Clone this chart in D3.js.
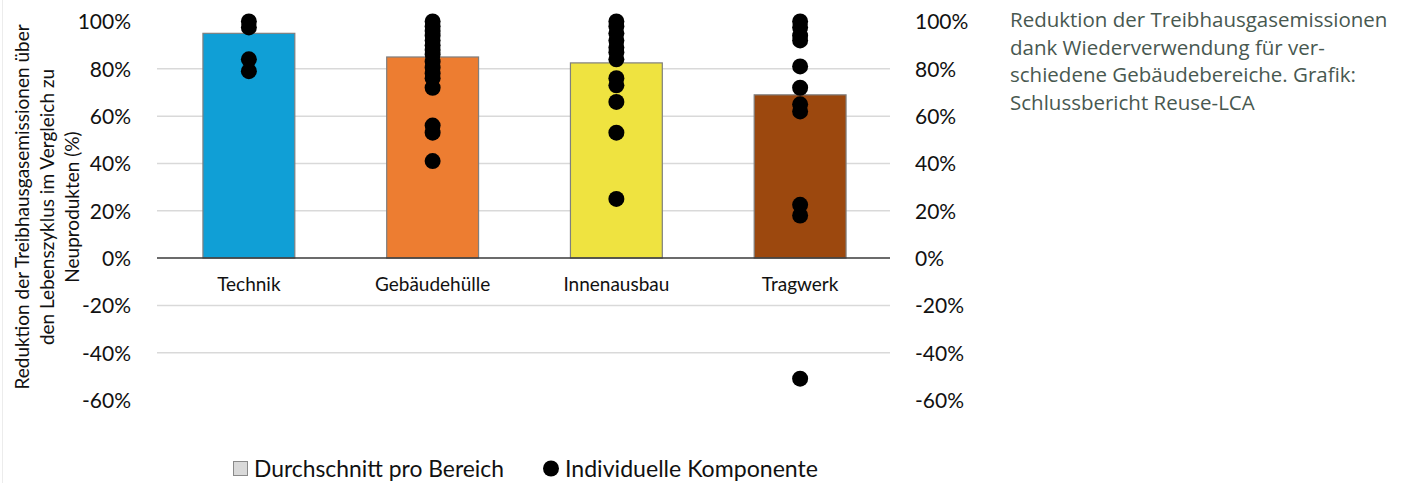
<!DOCTYPE html>
<html>
<head>
<meta charset="utf-8">
<script src="https://cdn.jsdelivr.net/npm/d3@7"></script>
<style>
  html, body { margin: 0; padding: 0; background: #fff; }
  svg { display: block; }
  .tick-label { font-family: Lato, "Open Sans", sans-serif; font-size: 21px; fill: #111; }
  .cat-label { font-family: Lato, "Open Sans", sans-serif; font-size: 19px; fill: #111; }
  .axis-title { font-family: Lato, "Open Sans", sans-serif; font-size: 19px; fill: #111; }
  .legend-text { font-family: Lato, "Open Sans", sans-serif; font-size: 24px; fill: #111; }
  .caption { font-family: "Open Sans", "Noto Sans", sans-serif; font-size: 20.5px; fill: #485850; }
</style>
</head>
<body>
<svg id="chart" width="1413" height="483"></svg>
<script>
// Building areas and their average reduction (%)
const categories = ["Technik", "Gebäudehülle", "Innenausbau", "Tragwerk"];
const averages = [95, 85, 82.5, 69];
const barColors = ["#109fd6", "#ed7d31", "#efe340", "#9c480e"];

// Reduction per individual component (%)
const compTechnik = [100, 97.5, 84, 79];
const compHuelle = [100, 98, 96, 94, 92, 90, 88, 86, 83, 80.5, 78, 76, 72, 56, 53, 41];
const compInnen = [100, 98, 95, 92, 89, 87, 84, 76, 73, 66, 53, 25];
const compTragwerk = [100, 97.5, 94, 92, 81, 72, 65, 62, 22.5, 18, -51];
const components = [compTechnik, compHuelle, compInnen, compTragwerk];

const yTicks = [-60, -40, -20, 0, 20, 40, 60, 80, 100];

const axisTitleLines = [
  "Reduktion der Treibhausgasemissionen über",
  "den Lebenszyklus im Vergleich zu",
  "Neuprodukten (%)"
];
const legendLabels = ["Durchschnitt pro Bereich", "Individuelle Komponente"];
const captionLines = [
  "Reduktion der Treibhausgasemissionen",
  "dank Wiederverwendung für ver-",
  "schiedene Gebäudebereiche. Grafik:",
  "Schlussbericht Reuse-LCA"
];

const svg = d3.select("#chart");

// faint frame line on the left edge
svg.append("line")
  .attr("x1", 2.5).attr("x2", 2.5).attr("y1", 0).attr("y2", 483)
  .attr("stroke", "#ececec").attr("stroke-width", 1);

const plotLeft = 157, plotRight = 892;
const x = d3.scaleBand().domain(categories).range([plotLeft, plotRight])
  .paddingInner(0.5).paddingOuter(0.25);
const y = d3.scaleLinear().domain([-60, 100]).range([400, 21.5]);

// gridlines (not at the outer limits)
svg.append("g").selectAll("line")
  .data(yTicks.filter(t => t !== 0 && t !== 100 && t !== -60))
  .join("line")
  .attr("x1", plotLeft).attr("x2", plotRight - 2)
  .attr("y1", d => y(d)).attr("y2", d => y(d))
  .attr("stroke", "#d9d9d9").attr("stroke-width", 1.5);

// left axis labels
const leftAxis = d3.axisLeft(y).tickValues(yTicks).tickFormat(d => d + "%").tickSize(0).tickPadding(0);
const gl = svg.append("g").attr("transform", "translate(131,0)").call(leftAxis);
gl.select(".domain").remove();
gl.selectAll("text").attr("class", "tick-label").attr("font-size", null).attr("font-family", null)
  .attr("dy", "0.35em");

// right axis labels
const rightAxis = d3.axisRight(y).tickValues(yTicks).tickFormat(d => d + "%").tickSize(0).tickPadding(0);
const gr = svg.append("g").attr("transform", "translate(915,0)").call(rightAxis);
gr.select(".domain").remove();
gr.selectAll("text").attr("class", "tick-label").attr("font-size", null).attr("font-family", null)
  .attr("dy", "0.35em");

// average bars
svg.append("g").selectAll("rect")
  .data(categories)
  .join("rect")
  .attr("x", d => x(d))
  .attr("width", x.bandwidth())
  .attr("y", (d, i) => y(averages[i]))
  .attr("height", (d, i) => y(0) - y(averages[i]))
  .attr("fill", (d, i) => barColors[i])
  .attr("stroke", "#7f7f7f").attr("stroke-width", 1.2);

// zero line
svg.append("line")
  .attr("x1", plotLeft).attr("x2", plotRight - 2)
  .attr("y1", y(0)).attr("y2", y(0))
  .attr("stroke", "#3a3a3a").attr("stroke-width", 1.6);

// component dots
const dotData = components.flatMap((vals, i) => vals.map(v => ({ cat: categories[i], v })));
svg.append("g").selectAll("circle")
  .data(dotData)
  .join("circle")
  .attr("cx", d => x(d.cat) + x.bandwidth() / 2)
  .attr("cy", d => y(d.v))
  .attr("r", 8)
  .attr("fill", "#000");

// category labels
svg.append("g").selectAll("text")
  .data(categories)
  .join("text")
  .attr("class", "cat-label")
  .attr("x", d => x(d) + x.bandwidth() / 2)
  .attr("y", 291)
  .attr("text-anchor", "middle")
  .text(d => d);

// y-axis title
const title = svg.append("text")
  .attr("class", "axis-title")
  .attr("transform", "translate(0,207) rotate(-90)")
  .attr("text-anchor", "middle");
axisTitleLines.forEach((line, i) => {
  title.append("tspan").attr("x", 0).attr("y", 29 + i * 25).text(line);
});

// legend
const lg = svg.append("g");
lg.append("rect").attr("x", 233.5).attr("y", 461.5).attr("width", 14).attr("height", 14)
  .attr("fill", "#d9d9d9").attr("stroke", "#8a8a8a").attr("stroke-width", 1);
lg.append("text").attr("class", "legend-text").attr("x", 254).attr("y", 477)
  .attr("textLength", 250).attr("lengthAdjust", "spacingAndGlyphs").text(legendLabels[0]);
lg.append("circle").attr("cx", 551).attr("cy", 468.5).attr("r", 8).attr("fill", "#000");
lg.append("text").attr("class", "legend-text").attr("x", 565).attr("y", 477)
  .attr("textLength", 253).attr("lengthAdjust", "spacingAndGlyphs").text(legendLabels[1]);

// caption
const cap = svg.append("text").attr("class", "caption");
captionLines.forEach((line, i) => {
  cap.append("tspan").attr("x", 1010).attr("y", 27 + i * 27.5).text(line);
});
</script>
</body>
</html>
